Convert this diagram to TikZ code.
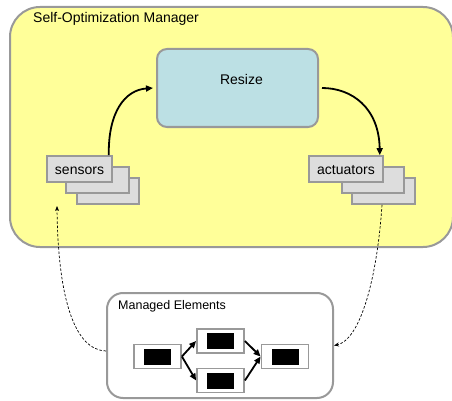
\documentclass[tikz,border=0pt]{standalone}
\usepackage{fontspec}
\setmainfont{Liberation Sans}
\usetikzlibrary{arrows.meta}
\definecolor{yel}{RGB}{255,255,153}
\definecolor{bord}{RGB}{153,153,153}
\definecolor{blu}{RGB}{188,224,228}
\definecolor{lgr}{RGB}{221,221,221}
\tikzset{
  outerbox/.style={draw=bord, line width=2pt, fill=yel, rounded corners=30pt, inner sep=0pt},
  resizebox/.style={draw=bord, line width=2pt, fill=blu, rounded corners=10pt, inner sep=0pt, minimum width=161pt, minimum height=78pt},
  stackbox/.style={draw=bord, line width=1.6pt, fill=lgr, inner sep=0pt, minimum height=26pt, font=\fontsize{14}{16}\selectfont},
  mgrbox/.style={draw=bord, line width=2pt, fill=white, rounded corners=16pt, inner sep=0pt},
  elem/.style={draw=bord, line width=1.8pt, fill=white, inner sep=0pt, minimum width=47pt, minimum height=24pt},
  bigarrow/.style={line width=1.8pt, -{Triangle[length=7pt,width=6pt]}},
  flowarrow/.style={line width=1.8pt, -{Triangle[length=7pt,width=6pt]}},
  dasharrow/.style={line width=0.7pt, dash pattern=on 2.5pt off 1.8pt, -{Stealth[length=5pt,width=4pt]}},
}
\begin{document}
\begin{tikzpicture}[x=1pt,y=-1pt]
\useasboundingbox (0,0) rectangle (452,401);
% outer manager
\node[outerbox, minimum width=443pt, minimum height=240pt] (mgr) at (231.5,127) {};
\node[anchor=base west, inner sep=0pt, font=\fontsize{14}{16}\selectfont] (title) at (33,23) {Self-Optimization Manager};
% resize
\node[resizebox] (resize) at (237.5,88) {};
\node[anchor=base, inner sep=0pt, font=\fontsize{14}{16}\selectfont] (resizelbl) at (241.5,85) {Resize};
% sensors stack
\node[stackbox, minimum width=62pt] (sens3) at (108,191) {};
\node[stackbox, minimum width=63pt] (sens2) at (97.5,180) {};
\node[stackbox, minimum width=65pt] (sens1) at (79.5,169) {\raisebox{0pt}[10pt][0pt]{sensors}};
% actuators stack
\node[stackbox, minimum width=63pt] (act3) at (383.5,191) {};
\node[stackbox, minimum width=62pt] (act2) at (373,180) {};
\node[stackbox, minimum width=74pt] (act1) at (346,169) {\raisebox{0pt}[10pt][0pt]{actuators}};
% arrows
\draw[bigarrow] ([xshift=-4pt]sens1.north east) .. controls (108,112) and (125,90) .. ([xshift=-3pt]resize.west);
\draw[bigarrow] ([xshift=3pt]resize.east) .. controls (352,88) and (379,108) .. ([xshift=-4pt]act1.north east);
% managed elements
\node[mgrbox, minimum width=226pt, minimum height=105pt] (me) at (220,345.5) {};
\node[anchor=base west, inner sep=0pt, font=\fontsize{12.5}{14}\selectfont] (metitle) at (118,309) {Managed Elements};
\node[elem] (L) at (157.5,356.5) {\rule{27pt}{16pt}};
\node[elem] (T) at (220.5,341) {\rule{27pt}{16pt}};
\node[elem] (B) at (220.5,380.5) {\rule{27pt}{16pt}};
\node[elem] (R) at (285,356.5) {\rule{27pt}{16pt}};
\draw[flowarrow] (L.east) -- (T.west);
\draw[flowarrow] (L.east) -- (B.west);
\draw[flowarrow] (T.east) -- (R.west);
\draw[flowarrow] (B.east) -- (R.west);
% dashed
\coordinate (sensin) at (57,206);
\draw[dasharrow] ([yshift=-5.5pt]me.west) .. controls (75,350) and (58,300) .. (sensin);
\draw[dasharrow] ([xshift=-1.5pt]act3.south) .. controls (377,280) and (360,340) .. (me.east);
\end{tikzpicture}
\end{document}
